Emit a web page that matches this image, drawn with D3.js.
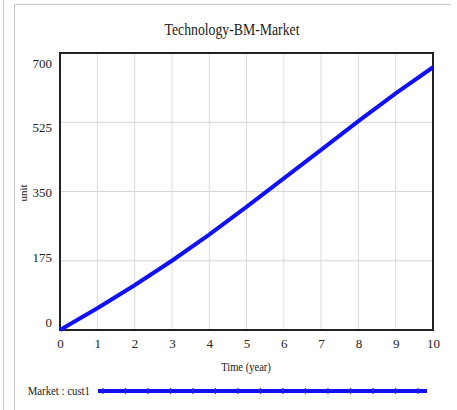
<!DOCTYPE html>
<html>
<head>
<meta charset="utf-8">
<script src="https://cdn.jsdelivr.net/npm/d3@7"></script>
<style>
  body { margin: 0; background: #fff; }
  svg { font-family: "Liberation Serif", "Times New Roman", serif; }
</style>
</head>
<body>
<div id="wrapper"></div>
<script>
// values
const years = [0, 1, 2, 3, 4, 5, 6, 7, 8, 9, 10];
const cust1 = [0, 55, 113, 175, 241, 311, 383, 455, 528, 598, 664];
const yTicks = [0, 175, 350, 525, 700];
const xTicks = [0, 1, 2, 3, 4, 5, 6, 7, 8, 9, 10];
const legendMarks = d3.range(15);

const width = 457;
const height = 410;
let dimensions = {
    width: width,
    height: height,
    margin: { top: 53, right: 24, bottom: 80, left: 60 }
}
dimensions.boundedWidth = dimensions.width - dimensions.margin.left - dimensions.margin.right
dimensions.boundedHeight = dimensions.height - dimensions.margin.top - dimensions.margin.bottom

const wrapper = d3.select("#wrapper")
    .append("svg")
    .attr("width", width)
    .attr("height", height);

// outer panel lines
wrapper.append("line").attr("x1", 3.5).attr("x2", 3.5).attr("y1", 0).attr("y2", height)
    .attr("stroke", "#c8c8c8");
wrapper.append("path").attr("d", `M14.5,${height} V4.5 H450`)
    .attr("fill", "none").attr("stroke", "#c8c8c8");

const bounds = wrapper.append("g")
    .attr("transform", `translate(${dimensions.margin.left},${dimensions.margin.top})`);

const xScale = d3.scaleLinear().domain([0, 10]).range([0, dimensions.boundedWidth]);
const yScale = d3.scaleLinear().domain([0, 700]).range([dimensions.boundedHeight, 0]);
// tick labels sit a little inside the gridlines
const yLabelScale = d3.scaleLinear().domain([0, 700]).range([dimensions.boundedHeight - 8, 10]);

// gridlines
bounds.append("g")
    .selectAll("line.gx")
    .data(xTicks.slice(1, -1))
    .enter().append("line")
    .attr("x1", d => xScale(d)).attr("x2", d => xScale(d))
    .attr("y1", 0).attr("y2", dimensions.boundedHeight)
    .attr("stroke", "#dcdcdc");
bounds.append("g")
    .selectAll("line.gy")
    .data(yTicks.slice(1, -1))
    .enter().append("line")
    .attr("y1", d => yScale(d)).attr("y2", d => yScale(d))
    .attr("x1", 0).attr("x2", dimensions.boundedWidth)
    .attr("stroke", "#d4d4d4");

// frame
bounds.append("rect")
    .attr("width", dimensions.boundedWidth)
    .attr("height", dimensions.boundedHeight)
    .attr("fill", "none")
    .attr("stroke", "#222")
    .attr("stroke-width", 2);

// x labels
const xAxis = bounds.append("g")
    .attr("transform", `translate(0,${dimensions.boundedHeight})`)
    .call(d3.axisBottom(xScale).tickValues(xTicks).tickSize(0).tickPadding(9));
xAxis.select(".domain").remove();
xAxis.selectAll("text").style("font-size", "13px").style("font-family", "Liberation Serif").attr("fill", "#222");

// y labels
const yAxis = bounds.append("g")
    .call(d3.axisLeft(yLabelScale).tickValues(yTicks).tickSize(0).tickPadding(8));
yAxis.select(".domain").remove();
yAxis.selectAll("text").style("font-size", "13px").style("font-family", "Liberation Serif").attr("fill", "#222");

// titles (the source font is narrow, so squeeze horizontally)
wrapper.append("text")
    .attr("transform", "translate(232,35) scale(0.86,1)")
    .attr("text-anchor", "middle")
    .style("font-size", "16px")
    .attr("fill", "#222")
    .text("Technology-BM-Market");

wrapper.append("text")
    .attr("transform", "translate(246,371) scale(0.88,1)")
    .attr("text-anchor", "middle")
    .style("font-size", "12px")
    .attr("fill", "#222")
    .text("Time (year)");

wrapper.append("text")
    .attr("transform", "translate(27,193) rotate(-90)")
    .attr("text-anchor", "middle")
    .style("font-size", "11px")
    .attr("fill", "#222")
    .text("unit");

// the series
const line = d3.line()
    .x((d, i) => xScale(years[i]))
    .y(d => yScale(d));

bounds.append("path")
    .datum(cust1)
    .attr("d", line)
    .attr("fill", "none")
    .attr("stroke", "#1010f5")
    .attr("stroke-width", 4);

// legend
const legend = wrapper.append("g");
legend.append("text")
    .attr("transform", "translate(90,395) scale(0.9,1)")
    .attr("text-anchor", "end")
    .style("font-size", "12px")
    .attr("fill", "#222")
    .text("Market : cust1");
legend.append("line")
    .attr("x1", 98).attr("x2", 427)
    .attr("y1", 391).attr("y2", 391)
    .attr("stroke", "#1010f5")
    .attr("stroke-width", 4);
legend.selectAll("line.mk")
    .data(legendMarks)
    .enter().append("line")
    .attr("x1", d => 103 + d * 22.5).attr("x2", d => 103 + d * 22.5)
    .attr("y1", 388).attr("y2", 394)
    .attr("stroke", "#2a2ad0")
    .attr("stroke-width", 1.2);
</script>
</body>
</html>
